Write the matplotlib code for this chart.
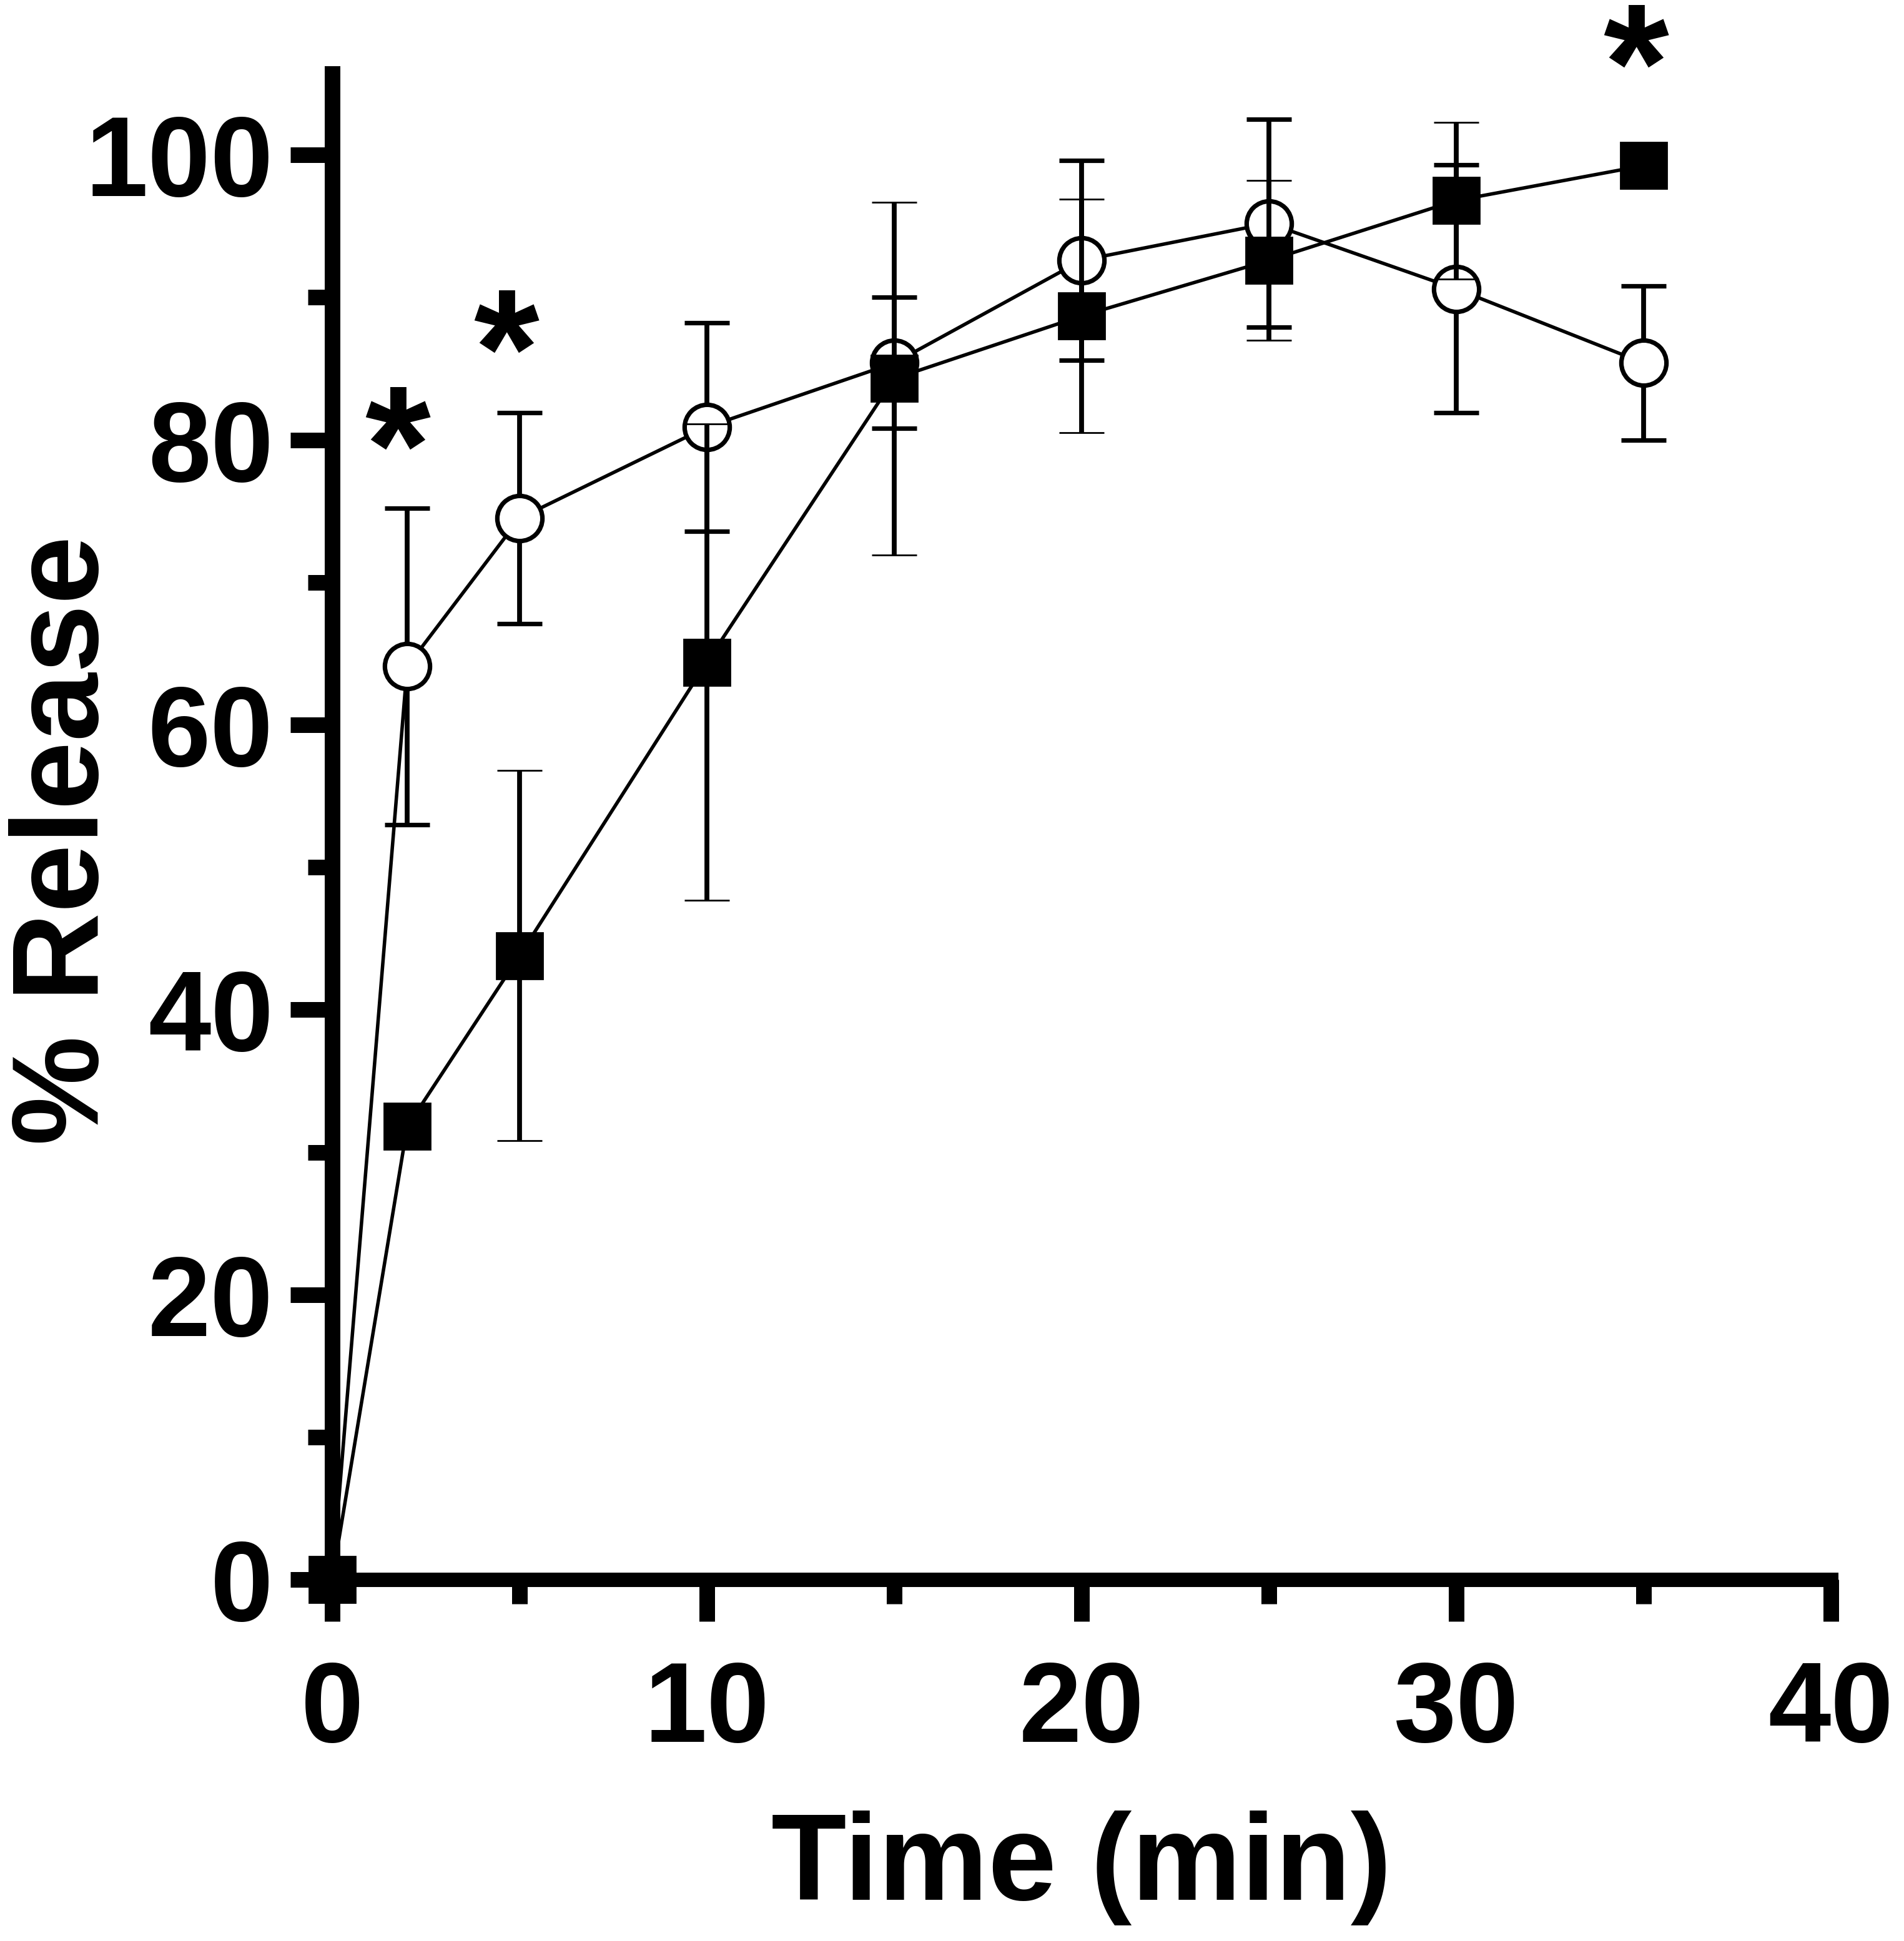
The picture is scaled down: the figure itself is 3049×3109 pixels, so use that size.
import matplotlib.pyplot as plt
import matplotlib.transforms as mtransforms
from matplotlib.ticker import MultipleLocator

plt.rcParams['font.family'] = ['Liberation Sans', 'DejaVu Sans']
plt.rcParams['font.weight'] = 'bold'

# time points (min)
time = [0, 2, 5, 10, 15, 20, 25, 30, 35]

# open circles
open_mean = [0, 64.1, 74.5, 80.9, 85.4, 92.6, 95.2, 90.6, 85.4]
open_err = [0, 11.1, 7.4, 7.3, 4.6, 7.0, 7.3, 8.7, 5.4]

# filled squares
fill_mean = [0, 31.8, 43.8, 64.4, 84.3, 88.7, 92.6, 96.8, 99.25]
fill_err = [0, 0, 13.0, 16.7, 12.4, 8.2, 5.6, 5.5, 0]

# significance marks
star_x = [1.75, 4.65, 34.8]
star_y = [81.7, 88.5, 108.5]

fig = plt.figure(figsize=(3049 / 200, 3109 / 200), dpi=200)
ax = fig.add_axes([0.1745, 0.1862, 0.7871, 0.7758])

ax.errorbar(time, open_mean, yerr=open_err, fmt='-o', color='black',
            mfc='white', mec='black', ms=26, mew=2.6, lw=2.0,
            elinewidth=2.8, capsize=13, capthick=2.8, zorder=3, clip_on=False)
ax.errorbar(time, fill_mean, yerr=fill_err, fmt='-s', color='black',
            mfc='black', mec='black', ms=26.5, mew=1, lw=2.0,
            elinewidth=2.8, capsize=13, capthick=2.8, zorder=4, clip_on=False)

# asterisk glyph sits high in its box, so shift it down
star_tr = mtransforms.offset_copy(ax.transData, fig=fig, y=-25, units='points')
for x, y in zip(star_x, star_y):
    ax.text(x, y, '*', fontsize=97, fontweight='bold', ha='center',
            va='center', transform=star_tr, clip_on=False)

ax.set_xlim(0, 40)
ax.set_ylim(0, 105.7)
ax.xaxis.set_major_locator(MultipleLocator(10))
ax.xaxis.set_minor_locator(MultipleLocator(5))
ax.yaxis.set_major_locator(MultipleLocator(20))
ax.yaxis.set_minor_locator(MultipleLocator(10))

for s in ['top', 'right']:
    ax.spines[s].set_visible(False)
ax.spines['left'].set_linewidth(9)
ax.spines['bottom'].set_linewidth(8.3)
ax.spines['bottom'].set_capstyle('projecting')

ax.tick_params(which='major', length=24, width=9, direction='out',
               labelsize=65)
ax.tick_params(which='minor', length=14, width=9, direction='out')
ax.tick_params(axis='x', which='major', pad=22)
ax.tick_params(axis='y', which='major', pad=10)
for lab in ax.get_xticklabels() + ax.get_yticklabels():
    lab.set_fontweight('bold')

ax.set_xlabel('Time (min)', fontsize=71, fontweight='bold')
ax.set_ylabel('% Release', fontsize=71, fontweight='bold')
ax.xaxis.set_label_coords(0.5, -0.1534)
ax.yaxis.set_label_coords(-0.139, 0.491)

fig.savefig('out.png', dpi=200)
